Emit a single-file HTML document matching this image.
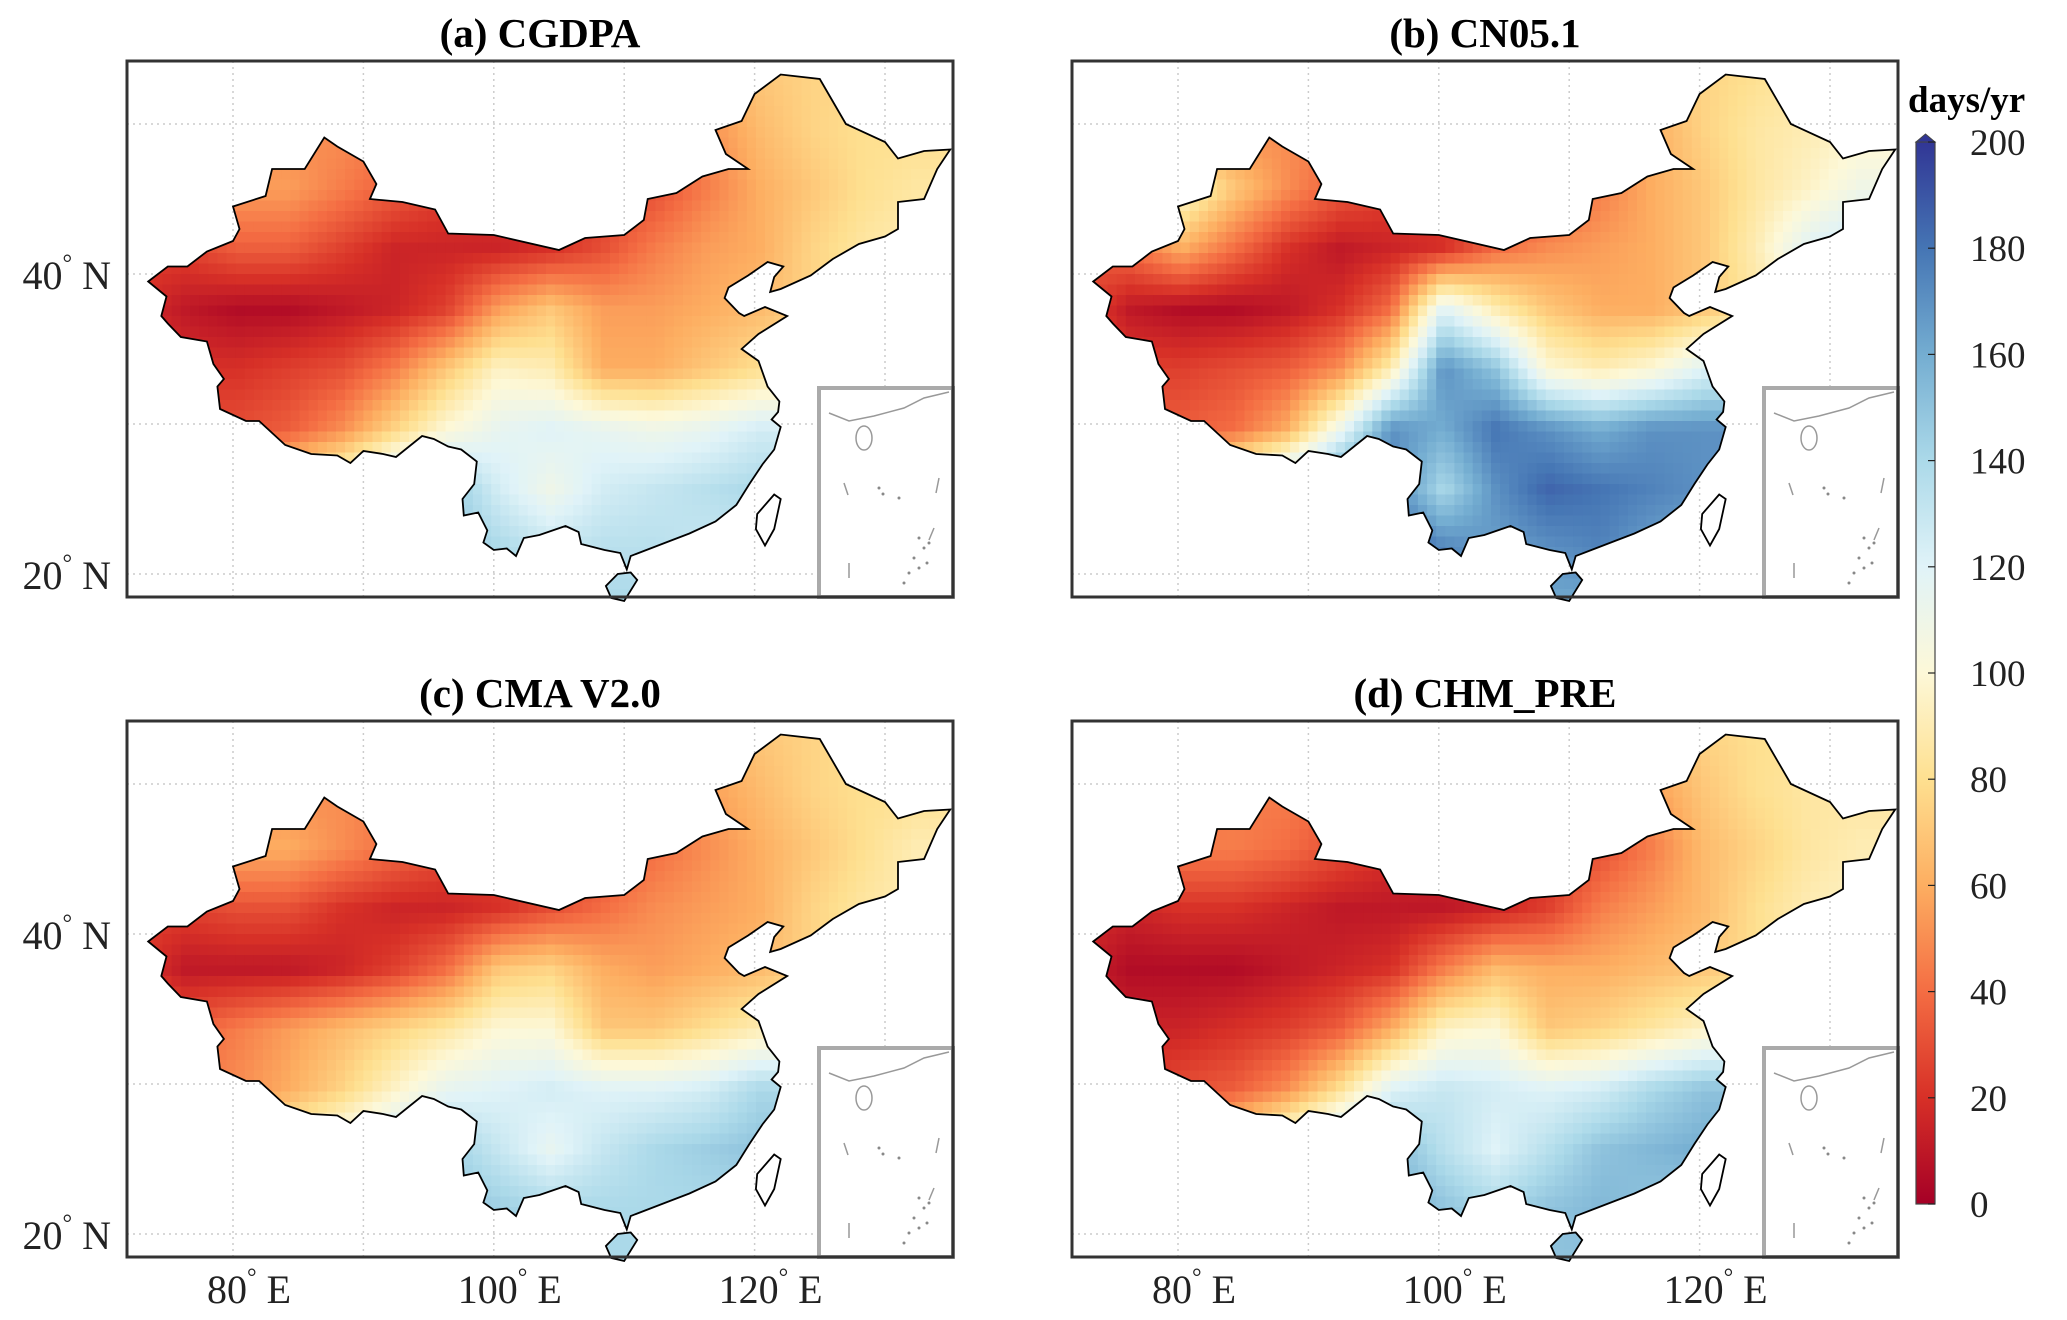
<!DOCTYPE html>
<html><head><meta charset="utf-8">
<style>
body{margin:0;background:#fff;width:2067px;height:1320px;overflow:hidden;font-family:"Liberation Serif",serif}
svg{position:absolute;left:0;top:0}
</style></head>
<body>
<svg id="fig" width="2067" height="1320"></svg>
<script>
// Grid nodes
const lonNodes=[72,76,80,84,88,92,96,100,104,108,112,116,120,124,128,132,136];
const latNodes=[54,50,46,42,38,34,30,26,22,18];
const panelTitles=["(a) CGDPA","(b) CN05.1","(c) CMA V2.0","(d) CHM_PRE"];
const cbTicks=[0,20,40,60,80,100,120,140,160,180,200];
const latTicks=[20,40];
const lonTicks=[80,100,120];
const valsA=[
[60,60,60,60,60,60,60,60,60,60,60,60,70,75,75,75,75],
[40,40,45,50,50,45,35,30,30,35,40,50,65,75,80,80,80],
[30,40,55,55,45,35,25,20,20,25,30,45,60,70,80,85,85],
[25,25,35,35,25,15,15,15,20,30,45,55,60,75,85,90,90],
[20,10,5,5,10,15,25,55,70,55,55,60,65,75,80,80,80],
[25,20,20,25,30,45,70,95,90,60,60,70,80,80,80,80,80],
[30,30,30,35,50,75,100,115,120,115,110,115,125,125,125,125,125],
[60,60,70,90,110,140,150,125,110,125,130,135,140,140,140,140,140],
[120,120,120,130,140,145,150,140,130,135,135,130,130,130,130,130,130],
[140,140,140,140,140,140,140,140,140,140,140,140,140,140,140,140,140]];
const valsB=[
[70,70,70,70,70,70,70,70,70,70,70,70,75,80,85,90,90],
[40,40,45,50,50,45,35,30,30,35,45,60,75,85,90,95,95],
[40,60,100,70,50,35,25,20,20,30,45,60,70,85,95,110,110],
[30,40,60,40,20,10,15,20,40,50,55,60,70,90,120,130,130],
[30,10,5,5,10,20,40,120,90,70,60,60,70,85,90,90,90],
[30,25,25,30,35,50,90,170,150,100,90,100,120,120,120,120,120],
[35,35,35,40,60,110,170,160,180,170,160,170,170,170,170,170,170],
[70,70,90,120,150,180,175,140,170,185,180,175,170,170,170,170,170],
[150,150,160,180,185,190,190,175,165,170,175,165,160,160,160,160,160],
[160,160,160,160,160,160,160,160,160,160,160,160,160,160,160,160,160]];
const valsC=[
[60,60,60,60,60,60,60,60,60,60,60,60,70,75,80,80,80],
[40,40,45,50,50,45,35,30,30,35,45,55,65,75,80,80,80],
[35,45,60,60,50,40,30,25,25,30,40,50,60,70,80,90,90],
[25,25,30,30,20,15,15,20,30,40,50,55,60,75,85,90,90],
[25,10,10,10,15,25,40,70,75,60,55,60,65,75,80,80,80],
[40,35,45,55,65,75,85,100,100,70,70,80,90,90,90,90,90],
[45,45,50,60,75,95,115,120,125,120,120,125,140,140,140,140,140],
[70,70,80,100,115,135,145,130,115,130,140,145,150,150,150,150,150],
[130,130,130,140,145,145,150,145,140,140,140,140,140,140,140,140,140],
[140,140,140,140,140,140,140,140,140,140,140,140,140,140,140,140,140]];
const valsD=[
[65,65,65,65,65,65,65,65,65,65,65,65,75,80,80,80,80],
[40,40,40,45,45,40,30,25,25,30,40,55,70,80,85,85,85],
[25,30,45,45,40,30,20,15,15,20,30,45,65,75,85,90,90],
[20,15,20,20,15,10,10,10,15,25,45,55,65,80,90,95,95],
[15,5,5,5,10,15,20,45,65,60,60,65,70,80,85,85,85],
[20,15,15,20,25,35,60,95,100,70,75,85,95,95,95,95,95],
[25,25,30,35,50,80,120,130,125,120,125,140,150,150,150,150,150],
[60,60,70,90,120,145,155,135,120,135,150,155,160,160,160,160,160],
[140,140,140,150,155,160,160,150,140,150,155,150,145,145,145,145,145]
,[150,150,150,150,150,150,150,150,150,150,150,150,150,150,150,150,150]];
const allVals=[valsA,valsB,valsC,valsD];

const china=[[73.5,39.5],[75,40.5],[76.5,40.5],[78,41.5],[80,42.2],[80.5,43],[80,44.5],[82.5,45.2],[83,47],[85.5,47],[87,49.1],[88,48.5],[90,47.5],[91,46],[90.5,45],[93,44.8],[95.5,44.3],[96.5,42.7],[100,42.6],[105,41.6],[107,42.4],[110,42.6],[111.5,43.6],[111.8,45],[114,45.4],[116,46.5],[118,47],[119.5,47],[117.8,48],[117,49.6],[119,50.2],[120,52],[122,53.3],[125,53],[127,50],[130,48.8],[131,47.7],[133,48.2],[135,48.3],[134,47],[133,45],[131,44.8],[131,43],[130,42.5],[128,42],[126,41],[124.3,39.9],[122,39],[121.2,38.8],[121.5,39.8],[122.2,40.5],[121,40.8],[119.5,39.9],[118,39.1],[117.7,38.4],[118.8,37.4],[119.2,37.2],[120.8,37.8],[122.5,37.2],[120.3,36],[119,35],[120.3,34.2],[121,32.5],[121.9,31.5],[121.8,30.8],[121.3,30.3],[122,29.8],[121.5,28.3],[120.6,27.3],[119.6,26],[118.6,24.6],[117,23.5],[115,22.7],[113.5,22.2],[112,21.7],[110.5,21.2],[110.2,20.3],[109.7,21.4],[108.5,21.6],[106.7,22],[106.5,22.8],[105.5,23.2],[103.5,22.6],[102.3,22.4],[101.7,21.2],[101,21.7],[100,21.6],[99.2,22.1],[99.5,22.9],[98.8,24.1],[97.7,23.9],[97.6,25],[98.5,26],[98.7,27.5],[97.5,28.3],[96.5,28.5],[95.4,29],[94.5,29.2],[92.5,27.8],[91.5,28],[90,28.2],[89,27.4],[88,27.9],[86,28],[84,28.6],[82,30.2],[81,30.2],[79,31],[78.8,32.5],[79.3,33],[78.5,34],[78,35.5],[76,35.8],[75,36.7],[74.5,37.2],[74.9,38.5],[73.5,39.5]];
const hainan=[[108.6,19.2],[109,18.4],[110,18.2],[111,19.6],[110.5,20.1],[109.5,20],[108.6,19.2]];
const taiwan=[[121.5,25.3],[122,25],[121.5,23],[120.8,21.9],[120.1,23],[120.2,24],[121.5,25.3]];

const NS="http://www.w3.org/2000/svg";
const svg=document.getElementById('fig');
function mk(tag,attrs,parent){const e=document.createElementNS(NS,tag);for(const k in attrs)e.setAttribute(k,attrs[k]);(parent||svg).appendChild(e);return e;}
const stops=['#a50026','#d73027','#f46d43','#fdae61','#fee090','#fdf8d8','#e0f3f8','#abd9e9','#74add1','#4575b4','#313695'];
function hex(c){return [1,3,5].map(i=>parseInt(c.substr(i,2),16));}
function cmap(v){v=Math.max(0,Math.min(200,v))/20;const i=Math.min(9,Math.floor(v)),f=v-i;const a=hex(stops[i]),b=hex(stops[i+1]);return 'rgb('+a.map((x,k)=>Math.round(x+(b[k]-x)*f)).join(',')+')';}
function interp(g,lon,lat){
  let cx=(lon-72)/4,cy=(54-lat)/4;cx=Math.max(0,Math.min(15.999,cx));cy=Math.max(0,Math.min(8.999,cy));
  const i=Math.floor(cx),j=Math.floor(cy),fx=cx-i,fy=cy-j;
  return g[j][i]*(1-fx)*(1-fy)+g[j][i+1]*fx*(1-fy)+g[j+1][i]*(1-fx)*fy+g[j+1][i+1]*fx*fy;}

const panels=[[127,61],[1072,61],[127,721],[1072,721]];
const PW=826,PH=536;
panels.forEach((p,pi)=>{
  const [X0,Y0]=p;
  const xs=lon=>X0+106+(lon-80)*13.04;
  const ys=lat=>Y0+213-(lat-40)*15;
  const g=mk('g',{});
  
  
  const t=mk('text',{x:X0+PW/2,y:Y0-14,'text-anchor':'middle','font-size':41,'font-weight':'bold','font-family':'Liberation Serif,serif'},g);
  t.textContent=panelTitles[pi];
  
  
  for(let lon=80;lon<=130;lon+=10){const l=mk('line',{x1:xs(lon),x2:xs(lon),y1:Y0,y2:Y0+PH,stroke:'#ccc','stroke-width':1.5,'stroke-dasharray':'2,4'},g);}
  for(let lat=20;lat<=50;lat+=10){const l=mk('line',{x1:X0,x2:X0+PW,y1:ys(lat),y2:ys(lat),stroke:'#ccc','stroke-width':1.5,'stroke-dasharray':'2,4'},g);}
  const pts=a=>a.map(q=>xs(q[0]).toFixed(1)+','+ys(q[1]).toFixed(1)).join(' ');
  const cid='clip'+pi;
  const cp=mk('clipPath',{id:cid},g);
  mk('polygon',{points:pts(china)},cp);mk('polygon',{points:pts(hainan)},cp);
  const cells=mk('g',{'clip-path':'url(#'+cid+')'},g);
  
  
  const st=0.7;
  for(let lat=54;lat>17.5;lat-=st){for(let lon=72.5;lon<136;lon+=st){
    mk('rect',{x:xs(lon).toFixed(1),y:ys(lat).toFixed(1),width:(st*13.04+0.6).toFixed(1),height:(st*15+0.6).toFixed(1),fill:cmap(interp(allVals[pi],lon,lat))},cells);
  }}
  const ol=mk('polygon',{points:pts(china),fill:'none',stroke:'#000','stroke-width':1.8},g);
  
  mk('polygon',{points:pts(hainan),fill:'none',stroke:'#000','stroke-width':1.8},g);
  const tw=mk('polygon',{points:pts(taiwan),fill:'none',stroke:'#000','stroke-width':1.8},g);
  
  const ix=X0+692,iy=Y0+327,iw=PW-692,ih=PH-327;
  const ib=mk('rect',{x:ix,y:iy,width:iw,height:ih,fill:'#fff',stroke:'#aaa','stroke-width':4},g);
  
  mk('rect',{x:ix+4,y:iy+4,width:iw-8,height:ih-8,fill:'none',stroke:'#fff','stroke-width':1.5},g);
  mk('path',{d:`M${ix+10},${iy+25} l20,8 l25,-5 l30,-8 l20,-10 l25,-6`,fill:'none',stroke:'#999','stroke-width':1.5},g);
  mk('ellipse',{cx:ix+45,cy:iy+50,rx:8,ry:12,fill:'none',stroke:'#999','stroke-width':1.5},g);
  mk('path',{d:`M${ix+25},${iy+95} l4,12 M${ix+120},${iy+90} l-3,15 M${ix+115},${iy+140} l-5,12 M${ix+30},${iy+175} l0,15`,fill:'none',stroke:'#999','stroke-width':1.5},g);
  [[60,100],[64,106],[80,110],[100,150],[105,160],[110,155],[95,170],[100,180],[90,185],[108,175],[85,195]].forEach(d=>mk('circle',{cx:ix+d[0],cy:iy+d[1],r:1.5,fill:'#888'},g));
  const fr=mk('rect',{x:X0,y:Y0,width:PW,height:PH,fill:'none',stroke:'#333','stroke-width':3},g);
  
  if(pi%2===0){latTicks.forEach(lat=>{const tt=mk('text',{x:X0-16,y:ys(lat)+15,'text-anchor':'end','font-size':40,'font-family':'Liberation Serif,serif',fill:'#222'},g);
    tt.innerHTML=lat+'<tspan dy="-18" font-size="24">°</tspan><tspan dy="18"> N</tspan>';
    });}
  if(pi>=2){lonTicks.forEach(lon=>{const tt=mk('text',{x:xs(lon)+16,y:Y0+PH+46,'text-anchor':'middle','font-size':40,'font-family':'Liberation Serif,serif',fill:'#222'},g);
    tt.innerHTML=lon+'<tspan dy="-18" font-size="24">°</tspan><tspan dy="18"> E</tspan>';
    });}
});
const CX=1916,CW=19,CT=142,CB=1204;
const cy=v=>CB-(v/200)*(CB-CT);
const defs=mk('defs',{});
const lg=mk('linearGradient',{id:'cbg',x1:0,y1:1,x2:0,y2:0},defs);
stops.forEach((c,i)=>mk('stop',{offset:(i/10),'stop-color':c},lg));
const cb=mk('g',{});

mk('rect',{x:CX,y:CT,width:CW,height:CB-CT,fill:'url(#cbg)',stroke:'#444','stroke-width':1.2},cb);
mk('polygon',{points:`${CX},${CT} ${CX+CW/2},${CT-8} ${CX+CW},${CT}`,fill:'#313695',stroke:'#444','stroke-width':1},cb);
cbTicks.forEach(v=>{mk('line',{x1:CX+CW-7,x2:CX+CW,y1:cy(v),y2:cy(v),stroke:'#222','stroke-width':1.2},cb);
  const t=mk('text',{x:1970,y:cy(v)+13,'font-size':37,'font-family':'Liberation Serif,serif',fill:'#222'},cb);t.textContent=v;
  });
const u=mk('text',{x:1908,y:112,'font-size':37,'font-weight':'bold','font-family':'Liberation Serif,serif'},cb);
u.textContent='days/yr';

</script>
</body></html>
